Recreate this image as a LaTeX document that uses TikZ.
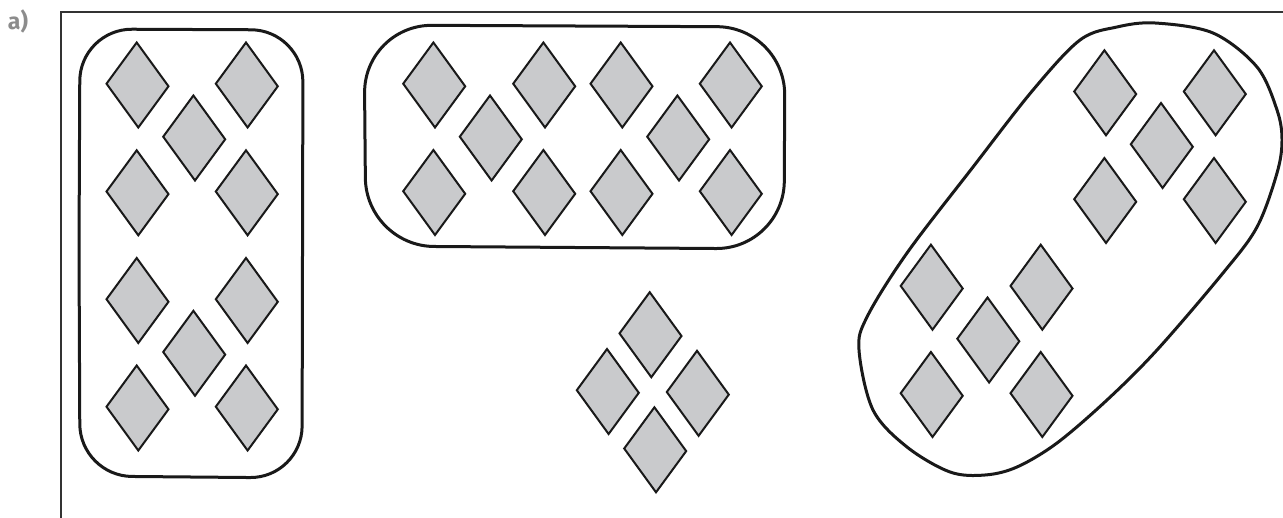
\documentclass[tikz,border=0pt]{standalone}
\usepackage{fontspec}
\setsansfont{Fira Sans}
\begin{document}
\begin{tikzpicture}[x=0.5pt,y=-0.5pt,
  framestyle/.style={draw=black!80,line width=0.6pt},
  blobstyle/.style={draw=black!90,line width=1.5pt,line join=round,line cap=round},
  diastyle/.style={draw=black!90,fill=diagray,line width=1pt,line join=miter},
  dia/.pic={\path[diastyle] (-31,-1.3) -- (-0.8,-42.5) -- (31,1.3) -- (0.8,42.5) -- cycle;},
  lbl/.style={text=black!45,font=\sffamily\bfseries\fontsize{11.5}{13}\selectfont,inner sep=0pt}]
\definecolor{diagray}{HTML}{C9CACC}
\useasboundingbox (0,0) rectangle (1283,518);
% label and frame
\node[lbl] (lab) at (18,21) {a)};
\coordinate (fl) at (61,518);
\coordinate (fc) at (61,12);
\coordinate (fr) at (1283,12);
\draw[framestyle] (fl) -- (fc) -- (fr);
% left blob
\draw[blobstyle,rounded corners=26] (79,250) -- (80,29) -- (303,30)
  -- (302,478) -- (80,476) -- (79,250);
\foreach \cx/\cy in {137.5/85, 246.8/85, 194.2/138, 137.5/192.8, 246.8/192.8,
  137.5/300.5, 246.8/300.5, 194.2/353.3, 137.5/408, 246.8/408}
  \pic at (\cx,\cy) {dia};
% top middle blob
\draw[blobstyle,rounded corners=34] (365,140) -- (364,25) -- (785,27)
  -- (784,249) -- (366,246) -- (365,140);
\foreach \cx/\cy in {434.2/85, 544.2/85, 621.5/85, 730.8/85, 490.8/138, 678.2/138,
  434.2/192.5, 544.2/192.5, 621.5/192.5, 730.8/192.5}
  \pic at (\cx,\cy) {dia};
% free group
\foreach \cx/\cy in {650.5/334.7, 607.8/391.5, 697.8/393.3, 655.2/449.8}
  \pic at (\cx,\cy) {dia};
% right blob
\draw[blobstyle] plot[smooth cycle,tension=0.55] coordinates {
 (1155,23) (1213,33) (1257,67) (1277,110) (1282,140) (1277,173) (1257,227)
 (1223,273) (1157,350) (1107,400) (1057,443) (1017,467) (985,475) (950,472)
 (907,447) (873,410) (859,350) (867,317) (907,253) (973,167) (1033,90) (1080,40)
 (1117,27)};
\foreach \cx/\cy in {1105.2/92.8, 1214.8/92.8, 1161.8/145.5, 1105.2/200.5, 1214.8/200.5,
  931.7/287.2, 1041.5/287.2, 988.3/340, 931.7/394.5, 1041.5/394.5}
  \pic at (\cx,\cy) {dia};
\end{tikzpicture}
\end{document}
